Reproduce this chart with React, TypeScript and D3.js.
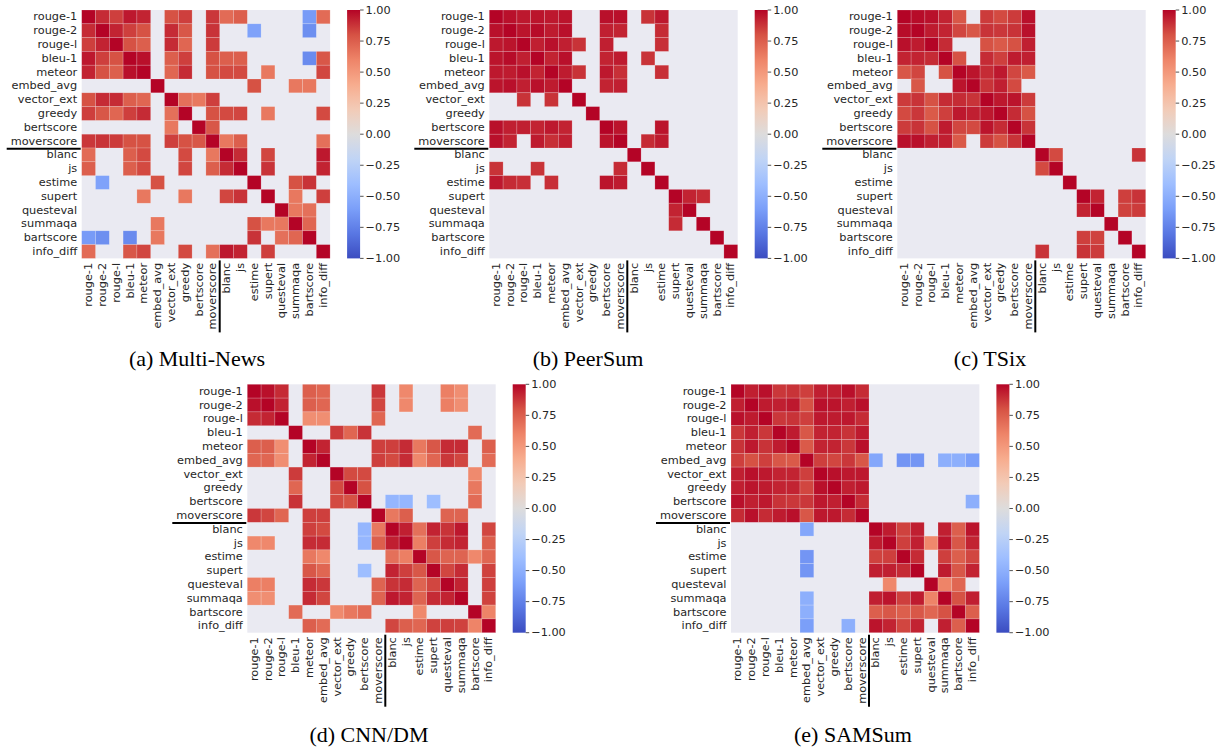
import React from 'react';
import * as d3 from 'd3';

// row / column labels, same order on both axes
const metrics = [
  'rouge-1', 'rouge-2', 'rouge-l', 'bleu-1', 'meteor', 'embed_avg', 'vector_ext',
  'greedy', 'bertscore', 'moverscore', 'blanc', 'js', 'estime', 'supert',
  'questeval', 'summaqa', 'bartscore', 'info_diff',
];

// lower triangles of the correlation matrices (null = not significant, masked)
const _ = null;

const multiNews = [
  [1],
  [.9, 1],
  [.85, .92, 1],
  [.95, .85, .8, 1],
  [.92, .8, .75, .97, 1],
  [_, _, _, _, _, 1],
  [.8, .9, .9, .75, .72, _, 1],
  [.85, .78, .72, .85, .9, _, .68, 1],
  [_, _, _, _, _, _, .65, _, 1],
  [.87, .88, .86, .8, .8, _, .85, .8, .78, 1],
  [.7, _, _, .75, .82, _, _, .82, _, .65, 1],
  [.75, _, _, .75, .82, _, _, .83, _, .75, .9, 1],
  [_, -.58, _, _, _, .8, _, _, _, _, _, _, 1],
  [_, _, _, _, .65, _, _, .65, _, _, .83, .88, _, 1],
  [_, _, _, _, _, _, _, _, _, _, _, _, _, _, 1],
  [_, _, _, _, _, .65, _, _, _, _, _, _, .8, .65, .65, 1],
  [-.62, -.68, _, -.7, _, .65, _, _, _, _, _, _, .88, _, .68, .72, 1],
  [.7, _, _, .78, .83, _, _, .82, _, .68, .95, .92, _, .85, _, _, _, 1],
];

const peerSum = [
  [1],
  [.97, 1],
  [.95, .96, 1],
  [.96, .98, .93, 1],
  [.95, .94, .97, .92, 1],
  [.96, .97, .93, .97, .94, 1],
  [_, _, .88, _, .88, _, 1],
  [_, _, _, _, _, _, _, 1],
  [.97, .93, .93, .92, .95, .92, _, _, 1],
  [.97, .92, _, .94, .89, .93, _, _, .96, 1],
  [_, _, _, _, _, _, _, _, _, _, 1],
  [.88, _, _, .88, _, _, _, _, _, .9, _, 1],
  [.95, .9, .89, _, .89, _, _, _, .96, .94, _, _, 1],
  [_, _, _, _, _, _, _, _, _, _, _, _, _, 1],
  [_, _, _, _, _, _, _, _, _, _, _, _, _, .92, 1],
  [_, _, _, _, _, _, _, _, _, _, _, _, _, .9, _, 1],
  [_, _, _, _, _, _, _, _, _, _, _, _, _, _, _, _, 1],
  [_, _, _, _, _, _, _, _, _, _, _, _, _, _, _, _, _, 1],
];

const tSix = [
  [1],
  [.98, 1],
  [.97, .94, 1],
  [.92, .92, .9, 1],
  [.78, .83, _, .8, 1],
  [_, .78, _, _, .96, 1],
  [.86, .88, .8, .9, .9, .88, 1],
  [.82, .87, .77, .85, .95, .93, .95, 1],
  [.86, .88, .8, .94, .83, .82, .96, .9, 1],
  [.97, .97, .93, .93, .77, _, .86, .8, .88, 1],
  [_, _, _, _, _, _, _, _, _, _, 1],
  [_, _, _, _, _, _, _, _, _, _, .82, 1],
  [_, _, _, _, _, _, _, _, _, _, _, _, 1],
  [_, _, _, _, _, _, _, _, _, _, _, _, _, 1],
  [_, _, _, _, _, _, _, _, _, _, _, _, _, .92, 1],
  [_, _, _, _, _, _, _, _, _, _, _, _, _, _, _, 1],
  [_, _, _, _, _, _, _, _, _, _, _, _, _, .85, .84, _, 1],
  [_, _, _, _, _, _, _, _, _, _, .88, _, _, .88, .86, _, _, 1],
];

const cnnDm = [
  [1],
  [.97, 1],
  [.9, .92, 1],
  [_, _, _, 1],
  [.75, .75, .55, _, 1],
  [.72, .72, .55, _, .92, 1],
  [_, _, _, .86, _, _, 1],
  [_, _, _, .72, _, _, .82, 1],
  [_, _, _, .88, _, _, .82, .8, 1],
  [.87, .83, .72, _, .85, .85, _, _, _, 1],
  [_, _, _, _, .85, .82, _, _, -.45, .65, 1],
  [.58, .58, _, _, .9, .9, _, _, -.45, .75, .93, 1],
  [_, _, _, _, .65, .58, _, _, _, _, .68, .62, 1],
  [_, _, _, _, .78, .72, _, _, -.4, _, .92, .85, .78, 1],
  [.62, .62, _, _, .9, .87, _, _, _, .73, .88, .9, .73, .83, 1],
  [.55, .55, _, _, .9, .83, _, _, _, .73, .95, .92, .73, .9, .92, 1],
  [_, _, _, .7, _, _, .57, .65, .7, _, _, _, .58, _, _, _, 1],
  [_, _, _, _, .75, .7, _, _, _, _, .83, .75, .72, .84, .85, .84, .6, 1],
];

const samSum = [
  [1],
  [.93, 1],
  [.97, .94, 1],
  [.87, .93, .87, 1],
  [.88, .95, .88, .94, 1],
  [.85, .8, .85, .78, .77, 1],
  [.93, .97, .95, .92, .92, .85, 1],
  [.93, .96, .94, .92, .92, .83, .97, 1],
  [.97, .93, .95, .88, .87, .87, .95, .93, 1],
  [.9, .97, .9, .94, .97, .78, .95, .95, .9, 1],
  [_, _, _, _, _, -.55, _, _, _, _, 1],
  [_, _, _, _, _, _, _, _, _, _, .94, 1],
  [_, _, _, _, _, -.65, _, _, _, _, .84, .85, 1],
  [_, _, _, _, _, -.65, _, _, _, _, .93, .93, .9, 1],
  [_, _, _, _, _, _, _, _, _, _, _, .58, _, _, 1],
  [_, _, _, _, _, -.5, _, _, _, _, .93, .96, .85, .94, .6, 1],
  [_, _, _, _, _, -.5, _, _, _, _, .75, .78, .75, .78, .72, .8, 1],
  [_, _, _, _, _, -.6, _, _, -.5, _, .96, .92, .83, .92, _, .93, .75, 1],
];

const colorTicks = [1, 0.75, 0.5, 0.25, 0, -0.25, -0.5, -0.75, -1];

// matplotlib "coolwarm", sampled every 0.1
const coolwarm = ['#3b4cc0', '#5977e3', '#7b9ff9', '#9ebeff', '#c0d4f5', '#dddcdc',
  '#f2cbb7', '#f7ac8e', '#ee8468', '#d65244', '#b40426'];

const color = d3.scaleLinear<string>()
  .domain(d3.range(11).map((i) => -1 + i * 0.2))
  .range(coolwarm)
  .interpolate(d3.interpolateRgb)
  .clamp(true);

const CELL = 13.8;
const FONT = 'DejaVu Sans, sans-serif';
const INK = '#262626';

function Heatmap({id, tri, left, top, caption, capX, capY}) {
  const size = CELL * metrics.length;
  const x = d3.scaleBand().domain(metrics).range([left, left + size]);
  const y = d3.scaleBand().domain(metrics).range([top, top + size]);
  const cb = d3.scaleLinear().domain([-1, 1]).range([top + size, top]);
  const fmt = d3.format('.2f');
  const value = (i, j) => (i >= j ? tri[i][j] : tri[j][i]);
  const split = x(metrics[10]);
  const barX = left + size + 17;
  const barW = 13;

  const cells = [];
  metrics.forEach((r, i) => metrics.forEach((c, j) => {
    const v = value(i, j);
    if (v === null || v === undefined) return;
    cells.push(
      <rect key={`${i}-${j}`} x={x(c)} y={y(r)} width={x.bandwidth()} height={y.bandwidth()}
        fill={color(v)} stroke="rgba(255,255,255,0.3)" strokeWidth={0.6} />,
    );
  }));

  return (
    <g>
      <defs>
        <linearGradient id={`grad-${id}`} x1="0" y1="1" x2="0" y2="0">
          {d3.range(21).map((k) => (
            <stop key={k} offset={k / 20} stopColor={color(-1 + k * 0.1)} />
          ))}
        </linearGradient>
      </defs>
      <rect x={left} y={top} width={size} height={size} fill="#eaeaf2" />
      {cells}

      {metrics.map((m) => (
        <text key={`y-${m}`} x={left - 4.5} y={y(m) + y.bandwidth() / 2} textAnchor="end"
          dominantBaseline="central" fontFamily={FONT} fontSize={11.3} fill={INK}>{m}</text>
      ))}
      {metrics.map((m) => (
        <text key={`x-${m}`} transform={`translate(${x(m) + x.bandwidth() / 2},${top + size + 4.5}) rotate(-90)`}
          textAnchor="end" dominantBaseline="central" fontFamily={FONT} fontSize={11.3} fill={INK}>{m}</text>
      ))}

      {/* separators between the two metric groups */}
      <line x1={left - 75} x2={left - 1} y1={y(metrics[10]) + 0.8} y2={y(metrics[10]) + 0.8}
        stroke="#000" strokeWidth={2} />
      <line x1={split} x2={split} y1={top + size + 2} y2={top + size + 74}
        stroke="#000" strokeWidth={2} />

      {/* colorbar */}
      <rect x={barX} y={top} width={barW} height={size} fill={`url(#grad-${id})`} />
      {colorTicks.map((t) => (
        <g key={`t-${t}`}>
          <line x1={barX + barW} x2={barX + barW + 3.5} y1={cb(t)} y2={cb(t)} stroke={INK} strokeWidth={0.8} />
          <text x={barX + barW + 5.5} y={cb(t)} dominantBaseline="central" fontFamily={FONT}
            fontSize={11.3} fill={INK}>{fmt(t).replace('-', '\u2212')}</text>
        </g>
      ))}

      <text x={capX} y={capY} textAnchor="middle" fontFamily="Liberation Serif, Times New Roman, serif"
        fontSize={22} fill="#000">{caption}</text>
    </g>
  );
}

export default function App() {
  return (
    <svg width={1220} height={747} style={{position: 'absolute', left: 0, top: 0, background: '#fff'}}>
      <Heatmap id="a" tri={multiNews} left={81.7} top={10} caption="(a) Multi-News" capX={197} capY={366} />
      <Heatmap id="b" tri={peerSum} left={489.3} top={10} caption="(b) PeerSum" capX={588} capY={366} />
      <Heatmap id="c" tri={tSix} left={897.3} top={10} caption="(c) TSix" capX={990} capY={366} />
      <Heatmap id="d" tri={cnnDm} left={247.3} top={384.3} caption="(d) CNN/DM" capX={369} capY={742} />
      <Heatmap id="e" tri={samSum} left={731} top={384.3} caption="(e) SAMSum" capX={853} capY={742} />
    </svg>
  );
}
